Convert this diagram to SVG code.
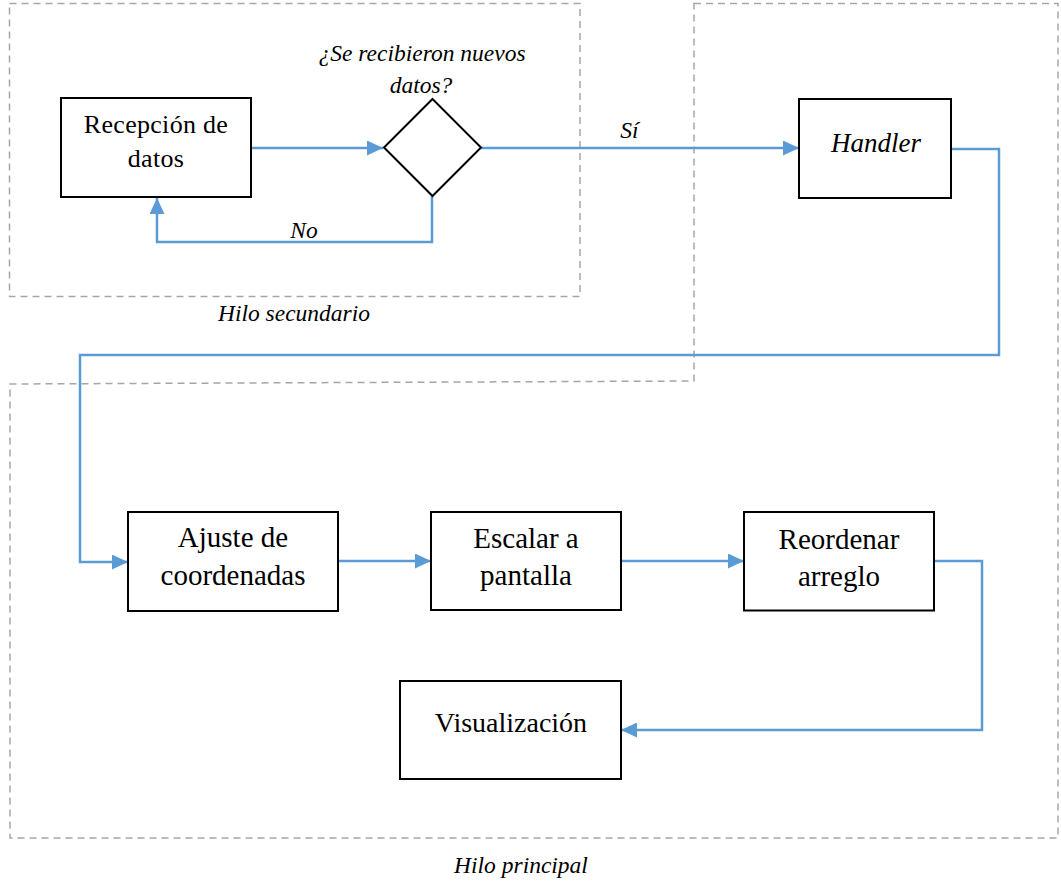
<svg xmlns="http://www.w3.org/2000/svg" width="1061" height="888" viewBox="0 0 1061 888">
<defs>
<style>
.zone{fill:none;stroke:#A6A6A6;stroke-width:1.5;stroke-dasharray:7 5}
.box{fill:#fff;stroke:#000;stroke-width:2}
.con{fill:none;stroke:#5B9BD5;stroke-width:2.5}
.t{font-family:"Liberation Serif","Times New Roman",serif;fill:#000;text-anchor:middle}
.i{font-family:"Liberation Serif","Times New Roman",serif;font-style:italic;fill:#000;text-anchor:middle;font-size:23.5px}
</style>
<marker id="ah" markerUnits="userSpaceOnUse" markerWidth="16" markerHeight="15" refX="16" refY="7.5" orient="auto">
<path d="M0,0 L16,7.5 L0,15 z" fill="#5B9BD5"/>
</marker>
</defs>
<rect width="1061" height="888" fill="#fff"/>
<g id="zones">
<rect class="zone" x="9.5" y="3.5" width="570.5" height="293"/>
<polygon class="zone" points="694,3.5 1058,3.5 1058,838 10,838 10,384 694,381"/>
<text class="i" x="294" y="321">Hilo secundario</text>
<text class="i" x="521" y="873">Hilo principal</text>
</g>
<g id="connectors">
<path class="con" d="M251,148 H383" marker-end="url(#ah)"/>
<path class="con" d="M432,196 V242 H157 V198" marker-end="url(#ah)"/>
<path class="con" d="M481,148 H799" marker-end="url(#ah)"/>
<path class="con" d="M951,149 H999 V355 H80 V562 H128" marker-end="url(#ah)"/>
<path class="con" d="M338,561 H431" marker-end="url(#ah)"/>
<path class="con" d="M621,561 H744" marker-end="url(#ah)"/>
<path class="con" d="M934,561 H982 V730 H621" marker-end="url(#ah)"/>
<text class="i" x="304" y="238">No</text>
<text class="i" x="629.5" y="138">Sí</text>
</g>
<g id="recepcion">
<rect class="box" x="61" y="98" width="190" height="99"/>
<text class="t" font-size="26" x="156" y="133.3" letter-spacing="0.3">Recepción de</text>
<text class="t" font-size="26" x="156" y="166.7" letter-spacing="0.3">datos</text>
</g>
<g id="decision">
<polygon class="box" points="432.5,99 481,147.5 432.5,196 384,147.5"/>
<text class="i" x="422" y="61">¿Se recibieron nuevos</text>
<text class="i" x="421" y="93">datos?</text>
</g>
<g id="handler">
<rect class="box" x="799" y="99" width="152" height="99"/>
<text class="t" font-size="27" font-style="italic" x="876" y="152">Handler</text>
</g>
<g id="ajuste">
<rect class="box" x="128" y="512" width="210" height="99"/>
<text class="t" font-size="29" x="233" y="547">Ajuste de</text>
<text class="t" font-size="29" x="233" y="585">coordenadas</text>
</g>
<g id="escalar">
<rect class="box" x="431" y="512" width="190" height="98"/>
<text class="t" font-size="29" x="526" y="548">Escalar a</text>
<text class="t" font-size="29" x="526" y="585">pantalla</text>
</g>
<g id="reordenar">
<rect class="box" x="744" y="512" width="190" height="98.5"/>
<text class="t" font-size="29" x="839" y="548.5">Reordenar</text>
<text class="t" font-size="29" x="839" y="585.5">arreglo</text>
</g>
<g id="visualizacion">
<rect class="box" x="400" y="681" width="221" height="98"/>
<text class="t" font-size="28" x="511" y="731.7">Visualización</text>
</g>
</svg>
